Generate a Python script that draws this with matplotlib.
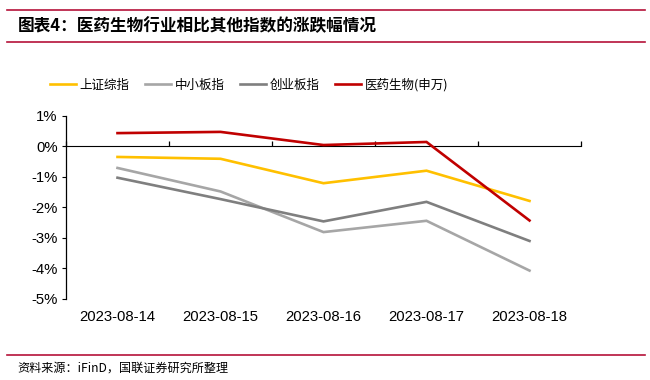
import matplotlib
matplotlib.use("Agg")
import matplotlib.pyplot as plt
from matplotlib.lines import Line2D
from matplotlib.ticker import FuncFormatter

plt.rcParams['font.family'] = ['Liberation Sans', 'Noto Sans CJK SC', 'DejaVu Sans']

# data (daily change, %)
dates = ["2023-08-14", "2023-08-15", "2023-08-16", "2023-08-17", "2023-08-18"]
sh_comp = [-0.35, -0.41, -1.21, -0.80, -1.79]      # 上证综指
sme = [-0.71, -1.48, -2.81, -2.44, -4.07]          # 中小板指
chinext = [-1.03, -1.73, -2.46, -1.82, -3.10]      # 创业板指
pharma = [0.43, 0.47, 0.04, 0.14, -2.43]           # 医药生物(申万)

names = ["上证综指", "中小板指", "创业板指", "医药生物(申万)"]
colors = ["#FFC000", "#A6A6A6", "#7F7F7F", "#C00000"]
series = [sh_comp, sme, chinext, pharma]

W, H = 650, 380
fig = plt.figure(figsize=(6.5, 3.8), dpi=100)

# header / footer
red = "#B5123A"
for yy in (10, 42, 355):
    fig.add_artist(Line2D([7 / W, 645 / W], [1 - yy / H, 1 - yy / H], color=red, lw=1.2))
fig.text(18 / W, 1 - 26 / H, "图表4：医药生物行业相比其他指数的涨跌幅情况",
         family=['Noto Sans CJK SC'], fontsize=12, fontweight='bold',
         va='center', ha='left')
fig.text(17 / W, 1 - 368 / H, "资料来源：iFinD，国联证券研究所整理",
         family=['Noto Sans CJK SC'], fontsize=8.7, va='center', ha='left')

ax = fig.add_axes([66 / W, 1 - 299 / H, (581 - 66) / W, (299 - 115.7) / H])
x = list(range(len(dates)))
for s, c, n in zip(series, colors, names):
    ax.plot(x, s, color=c, lw=1.9, label=n, solid_joinstyle='miter')

ax.set_xlim(-0.5, len(dates) - 0.5)
ax.set_ylim(-5, 1)
ax.set_yticks(range(-5, 2))
ax.yaxis.set_major_formatter(FuncFormatter(lambda v, p: "%d%%" % v))
ax.tick_params(axis='y', length=3, width=0.8, labelsize=10.7, pad=3)
ax.set_xticks(x)
ax.set_xticklabels(dates)
ax.tick_params(axis='x', length=0, labelsize=10.7, pad=8)
for sp in ['top', 'right', 'bottom']:
    ax.spines[sp].set_visible(False)
ax.spines['left'].set_linewidth(0.9)

# zero line with category boundary ticks
sec = ax.secondary_xaxis(5 / 6)
sec.set_xticks([i - 0.5 for i in range(len(dates) + 1)])
sec.set_xticklabels([])
sec.tick_params(axis='x', direction='out', length=3.5, width=0.9)
sec.spines['bottom'].set_linewidth(0.9)

leg = fig.legend(loc='center', bbox_to_anchor=(249 / W, 1 - 85 / H), ncol=4,
                 frameon=False, handlelength=2.1, handletextpad=0.3,
                 columnspacing=1.2, prop={'family': ['Noto Sans CJK SC'], 'size': 9})

fig.savefig("out.png", dpi=100)
